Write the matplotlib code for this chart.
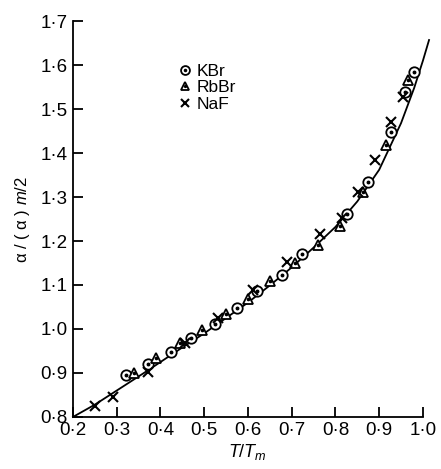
import matplotlib
matplotlib.use("Agg")
import matplotlib.pyplot as plt

plt.rcParams['font.family'] = ['Liberation Sans', 'DejaVu Sans']
plt.rcParams['mathtext.fontset'] = 'custom'
plt.rcParams['mathtext.it'] = 'Liberation Sans:italic'
plt.rcParams['mathtext.rm'] = 'Liberation Sans'

# KBr (circles with a dot)
kbr_x = [0.321, 0.371, 0.424, 0.470, 0.525, 0.575, 0.620, 0.677, 0.723, 0.826, 0.874, 0.927, 0.959, 0.980]
kbr_y = [0.895, 0.920, 0.948, 0.980, 1.011, 1.048, 1.086, 1.123, 1.170, 1.261, 1.334, 1.448, 1.539, 1.584]

# RbBr (triangles with a dot)
rbbr_x = [0.339, 0.390, 0.444, 0.495, 0.550, 0.600, 0.651, 0.708, 0.760, 0.810, 0.863, 0.916, 0.966]
rbbr_y = [0.900, 0.934, 0.968, 0.998, 1.034, 1.068, 1.109, 1.150, 1.191, 1.234, 1.311, 1.418, 1.566]

# NaF (crosses)
naf_x = [0.250, 0.291, 0.371, 0.456, 0.531, 0.611, 0.689, 0.765, 0.815, 0.851, 0.890, 0.927, 0.955]
naf_y = [0.825, 0.845, 0.902, 0.968, 1.025, 1.089, 1.152, 1.216, 1.252, 1.311, 1.384, 1.470, 1.527]

# fitted curve
curve_x = [0.200, 0.250, 0.300, 0.370, 0.450, 0.500, 0.550, 0.600, 0.650, 0.700,
           0.750, 0.800, 0.850, 0.900, 0.950, 0.980, 1.000, 1.014]
curve_y = [0.800, 0.828, 0.860, 0.905, 0.958, 0.990, 1.025, 1.060, 1.099, 1.140,
           1.185, 1.232, 1.290, 1.362, 1.468, 1.548, 1.610, 1.657]

xticks = [0.2, 0.3, 0.4, 0.5, 0.6, 0.7, 0.8, 0.9, 1.0]
yticks = [0.8, 0.9, 1.0, 1.1, 1.2, 1.3, 1.4, 1.5, 1.6, 1.7]

fig = plt.figure(figsize=(4.41, 4.69), dpi=100)
ax = fig.add_axes([0.1655, 0.111, 0.7935, 0.844])

ax.plot(curve_x, curve_y, color='black', lw=1.3, clip_on=False, zorder=2)

c1, = ax.plot(kbr_x, kbr_y, 'o', ms=7.5, mfc='white', mec='black', mew=1.3, zorder=3)
c2, = ax.plot(kbr_x, kbr_y, 'o', ms=1.8, color='black', zorder=4)
t1, = ax.plot(rbbr_x, rbbr_y, '^', ms=7, mfc='white', mec='black', mew=1.3, zorder=3)
t2, = ax.plot(rbbr_x, rbbr_y, 'o', ms=1.6, color='black', zorder=4)
x1, = ax.plot(naf_x, naf_y, 'x', ms=6.5, color='black', mew=1.5, zorder=5)

ax.legend([(c1, c2), (t1, t2), x1], ['KBr', 'RbBr', 'NaF'],
          loc='upper left', bbox_to_anchor=(0.28, 0.91), frameon=False,
          fontsize=12.5, handlelength=0.8, handletextpad=0.3, labelspacing=0.08,
          markerscale=0.85, borderaxespad=0)

ax.set_xlim(0.2, 1.0)
ax.set_ylim(0.8, 1.7)
ax.set_xticks(xticks)
ax.set_yticks(yticks)
ax.set_xticklabels([f'{v:.1f}'.replace('.', '·') for v in xticks])
ax.set_yticklabels([f'{v:.1f}'.replace('.', '·') for v in yticks])
ax.tick_params(direction='in', length=7, width=1.3, labelsize=13.5, pad=4)

for s in ['top', 'right']:
    ax.spines[s].set_visible(False)
for s in ['left', 'bottom']:
    ax.spines[s].set_linewidth(1.3)

ax.set_xlabel(r'$T/T_m$', fontsize=13, labelpad=2)
ax.set_ylabel(r'α / ( α ) $m/2$', fontsize=12, labelpad=6)

fig.savefig('out.png', dpi=100)
